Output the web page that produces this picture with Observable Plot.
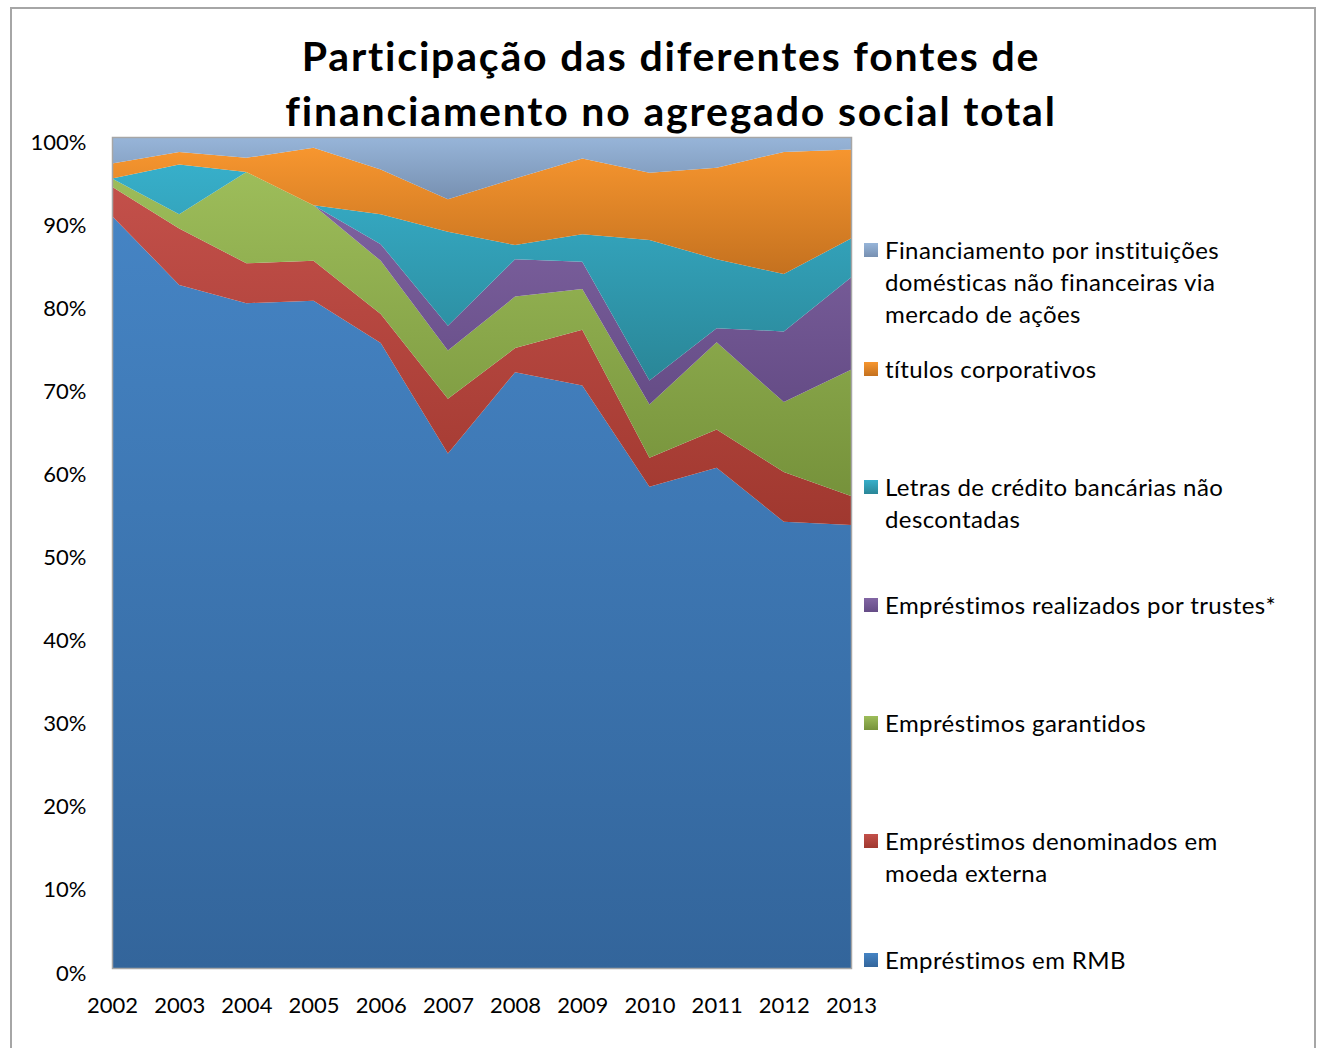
<!DOCTYPE html>
<html><head><meta charset="utf-8">
<script src="https://cdn.jsdelivr.net/npm/d3@7"></script>
<script src="https://cdn.jsdelivr.net/npm/@observablehq/plot@0.6"></script>
<style>
body{margin:0;background:#fff;font-family:Lato,"Open Sans",sans-serif;}
#wrap{position:relative;width:1319px;height:1048px;overflow:hidden;background:#fff;}
#outer{position:absolute;left:10px;top:7px;width:1306px;height:1100px;border:2px solid #a6a6a6;box-sizing:border-box;}
#chart{position:absolute;left:0;top:0;}
#title{position:absolute;left:0;top:28px;width:1342px;text-align:center;font-weight:bold;font-size:41px;letter-spacing:1.8px;line-height:55px;color:#000;}
.leg{position:absolute;left:864px;font-size:24px;letter-spacing:0.4px;line-height:32px;color:#000;}
.leg .sw{position:absolute;left:0;top:8px;width:14px;height:14px;}
.leg .tx{position:absolute;left:21px;top:-1px;white-space:nowrap;}
</style>
</head><body>
<div id="wrap">
  <div id="outer"></div>
  <div id="chart"></div>
  <div id="title">Participação das diferentes fontes de<br>financiamento no agregado social total</div>
  <div id="legend"></div>
</div>
<script>
const years = [2002, 2003, 2004, 2005, 2006, 2007, 2008, 2009, 2010, 2011, 2012, 2013];

// stacking order: bottom to top
const seriesNames = [
  "Empréstimos em RMB",
  "Empréstimos denominados em moeda externa",
  "Empréstimos garantidos",
  "Empréstimos realizados por trustes*",
  "Letras de crédito bancárias não descontadas",
  "títulos corporativos",
  "Financiamento por instituições domésticas não financeiras via mercado de ações"
];

const legendLines = [
  ["Empréstimos em RMB"],
  ["Empréstimos denominados em", "moeda externa"],
  ["Empréstimos garantidos"],
  ["Empréstimos realizados por trustes*"],
  ["Letras de crédito bancárias não", "descontadas"],
  ["títulos corporativos"],
  ["Financiamento por instituições", "domésticas não financeiras via", "mercado de ações"]
];

// shares in percent
const rmb       = [90.5, 82.2, 80.0, 80.3, 75.2, 61.9, 71.7, 70.1, 57.9, 60.2, 53.7, 53.3];
const foreign   = [ 3.5,  6.8,  4.8,  4.8,  3.5,  6.6,  2.9,  6.7,  3.5,  4.6,  6.0,  3.5];
const entrusted = [ 1.0,  1.7, 11.0,  6.7,  6.4,  5.8,  6.2,  4.9,  6.4, 10.5,  8.4, 15.2];
const trusts    = [ 0.0,  0.0,  0.0,  0.0,  2.0,  3.0,  4.5,  3.3,  2.9,  1.7,  8.5, 11.1];
const bills     = [ 0.0,  6.0,  0.0,  0.0,  3.6, 11.3,  1.7,  3.3, 16.9,  8.3,  6.9,  4.7];
const bonds     = [ 1.8,  1.5,  1.7,  6.9,  5.4,  3.9,  8.0,  9.1,  8.1, 11.0, 14.7, 10.7];
const equity    = [ 3.2,  1.8,  2.5,  1.3,  3.9,  7.5,  5.0,  2.6,  4.3,  3.7,  1.8,  1.5];

const seriesValues = [rmb, foreign, entrusted, trusts, bills, bonds, equity];

// gradient colours (top, bottom)
const gradTop    = ["#4584c4", "#c3504a", "#9dbd5a", "#8266a4", "#37afca", "#f7962f", "#97b5d9"];
const gradBottom = ["#33659b", "#a0382f", "#76923b", "#654c86", "#2a8697", "#c4711f", "#7790b1"];

const data = [];
seriesNames.forEach((s, i) => {
  years.forEach((y, j) => data.push({series: s, year: y, value: seriesValues[i][j]}));
});

const fills = seriesNames.map((_, i) => `url(#grad${i})`);

const chart = Plot.plot({
  width: 1319,
  height: 1048,
  marginLeft: 112,
  marginRight: 468,
  marginTop: 137,
  marginBottom: 80,
  style: {fontFamily: "Lato, 'Open Sans', sans-serif", fontSize: "22px", color: "#000", background: "transparent"},
  x: {domain: [2002, 2013]},
  y: {domain: [0, 1]},
  color: {type: "ordinal", domain: seriesNames, range: fills},
  marks: [
    Plot.areaY(data, {x: "year", y: "value", fill: "series", order: seriesNames, offset: "normalize"}),
    Plot.frame({stroke: "#a6a6a6", strokeWidth: 1.5}),
    Plot.axisY({ticks: d3.range(0, 1.01, 0.1), tickFormat: d3.format(".0%"), tickSize: 0, tickPadding: 26, dy: 5, label: null, fontSize: 22}),
    Plot.axisX({ticks: years, tickFormat: d => String(d), tickSize: 0, tickPadding: 29, label: null, fontSize: 22})
  ]
});

const svg = d3.select(chart);
const defs = svg.insert("defs", ":first-child");
seriesNames.forEach((_, i) => {
  const g = defs.append("linearGradient").attr("id", `grad${i}`)
    .attr("x1", 0).attr("y1", 0).attr("x2", 0).attr("y2", 1);
  g.append("stop").attr("offset", "0%").attr("stop-color", gradTop[i]);
  g.append("stop").attr("offset", "100%").attr("stop-color", gradBottom[i]);
});
document.getElementById("chart").appendChild(chart);

// legend (top to bottom = reverse of stack)
const legend = document.getElementById("legend");
const order = d3.range(seriesNames.length).reverse();
order.forEach((i, k) => {
  const div = document.createElement("div");
  div.className = "leg";
  div.style.top = (235.3 + 118.2 * k) + "px";
  const sw = document.createElement("div");
  sw.className = "sw";
  sw.style.background = `linear-gradient(to bottom, ${gradTop[i]}, ${gradBottom[i]})`;
  const tx = document.createElement("div");
  tx.className = "tx";
  tx.innerHTML = legendLines[i].join("<br>");
  div.appendChild(sw);
  div.appendChild(tx);
  legend.appendChild(div);
});
</script>
</body></html>
